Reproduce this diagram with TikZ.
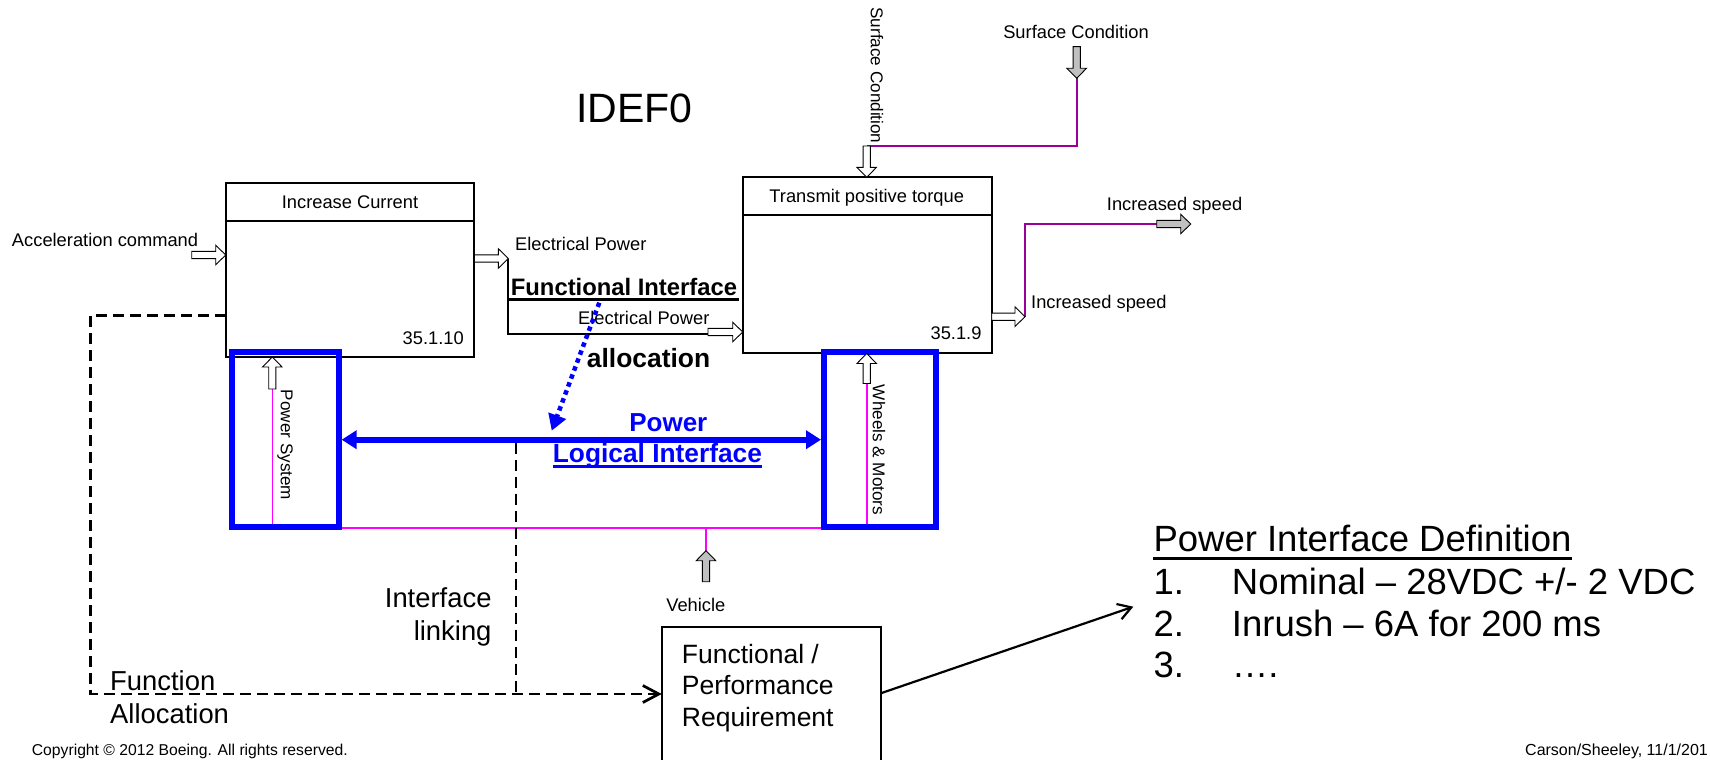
\documentclass[tikz,border=0pt]{standalone}
\usepackage{fontspec}
\setmainfont{Liberation Sans}
\usetikzlibrary{arrows.meta}
\definecolor{ablue}{RGB}{0,0,255}
\definecolor{amag}{RGB}{255,0,255}
\definecolor{apurp}{RGB}{153,0,153}
\definecolor{agray}{RGB}{192,192,192}
\newcommand\sz[1]{\fontsize{#1}{#1}\selectfont}

\begin{document}
\begin{tikzpicture}[x=1pt,y=-1pt,
  idefbox/.style={draw, line width=1.8, outer sep=0, inner sep=0},
  bluebox/.style={draw=ablue, line width=5.7, inner sep=0},
  lbl/.style={inner sep=0, font=\sz{18.3}},
  vlbl/.style={inner sep=0, font=\sz{17.1}, rotate=-90},
  big/.style={inner sep=0, font=\sz{27.4}},
  listtxt/.style={inner sep=0, font=\sz{36.5}, anchor=base west},
  dashline/.style={line width=2.7, dash pattern=on 11pt off 6pt},
  pics/harrow/.style={code={
    \draw[line width=0.9, fill=white, line join=miter]
      (0,0) -- (-10,-9.8) -- (-10,-3.6) -- (-#1,-3.6) -- (-#1,3.6) -- (-10,3.6) -- (-10,9.8) -- cycle;}},
  pics/garrow/.style={code={
    \draw[line width=0.9, fill=agray, line join=miter]
      (0,0) -- (-10,-9.8) -- (-10,-3.6) -- (-#1,-3.6) -- (-#1,3.6) -- (-10,3.6) -- (-10,9.8) -- cycle;}},
]
\useasboundingbox (0,0) rectangle (1710,760);

% title
\node[anchor=base west, inner sep=0, font=\sz{41}] (title) at (576,122) {IDEF0};

% activity boxes
\node[idefbox, minimum width=248.6, minimum height=174, anchor=north west] (inc) at (225.7,182.7) {};
\draw[line width=1.8] ([yshift=-38pt]inc.north west) -- ([yshift=-38pt]inc.north east);
\node[lbl, anchor=base] (incT) at (350,208.2) {Increase Current};
\node[lbl, anchor=base east] (incN) at (464,344.5) {35.1.10};

\node[idefbox, minimum width=249, minimum height=175.4, anchor=north west] (tra) at (742.7,177.3) {};
\draw[line width=1.8] ([yshift=-37.7pt]tra.north west) -- ([yshift=-37.7pt]tra.north east);
\node[lbl, anchor=base] (traT) at (866.7,202.5) {Transmit positive torque};
\node[lbl, anchor=base east] (traN) at (981.7,339.8) {35.1.9};

% connection points
\coordinate (accTip) at (225.7,255);
\coordinate (incOut) at (508.3,258.5);
\coordinate (epBend) at (508.3,334.3);
\coordinate (epEnd) at (708,334.3);
\coordinate (traIn) at (742.7,332);
\coordinate (surfIn) at (866.7,177.3);
\coordinate (surfJoin) at (866.7,146);
\coordinate (surfCorner) at (1076.7,146);
\coordinate (surfSrc) at (1076.7,78.3);
\coordinate (traOut) at (1025,316.7);
\coordinate (spdCorner) at (1025,224);
\coordinate (spdEnd) at (1156.7,224);
\coordinate (spdTip) at (1190.7,224);
\coordinate (pwrTip) at (272.3,357);
\coordinate (pwrBase) at (272.3,389);
\coordinate (pwrFoot) at (272.3,528);
\coordinate (whlTip) at (866.7,353.5);
\coordinate (whlBase) at (866.7,383.5);
\coordinate (whlFoot) at (866.7,528);
\coordinate (vehJoin) at (706,528);
\coordinate (vehTip) at (706,550.7);

% mechanism wiring
\draw[amag, line width=1.6] (pwrBase) -- (pwrFoot) -- (whlFoot) -- (whlBase);
\draw[amag, line width=1.6] (vehJoin) -- (vehTip);

% physical elements
\node[bluebox, minimum width=106.6, minimum height=175] (pwr) at (285.5,439.7) {};
\node[bluebox, minimum width=112.3, minimum height=175] (whl) at (880,439.7) {};
\node[vlbl] (pwrL) at (285,445) {Power System};
\node[vlbl] (whlL) at (879,450) {Wheels \& Motors};

% control and output lines
\draw[apurp, line width=2] (surfJoin) -- (surfCorner) -- (surfSrc);
\draw[apurp, line width=2] (traOut) -- (spdCorner) -- (spdEnd);
\draw[line width=1.8] (incOut) -- (epBend) -- (epEnd);

% block arrows
\pic at (accTip) {harrow=34};
\pic at (incOut) {harrow=34};
\pic at (traIn) {harrow=34.7};
\pic at (traOut) {harrow=33.3};
\pic[rotate=-90] at (surfIn) {harrow=31.3};
\pic[rotate=90] at (pwrTip) {harrow=32};
\pic[rotate=90] at (whlTip) {harrow=30};
\pic[rotate=-90] at (surfSrc) {garrow=31.6};
\pic at (spdTip) {garrow=34};
\pic[rotate=90] at (vehTip) {garrow=31};

% arrow labels
\node[lbl, anchor=base west] (acc) at (11.8,246) {Acceleration command};
\node[lbl, anchor=base west] (ep1) at (515,250.5) {Electrical Power};
\node[lbl, anchor=base west] (ep2) at (578,324.8) {Electrical Power};
\node[lbl, anchor=base] (surfT) at (1076,38.2) {Surface Condition};
\node[vlbl] (surfV) at (877,75.5) {Surface Condition};
\node[lbl, anchor=base west] (is1) at (1106.7,210.5) {Increased speed};
\node[lbl, anchor=base west] (is2) at (1031,308.8) {Increased speed};
\node[lbl, anchor=base] (veh) at (695.8,611.5) {Vehicle};

% interface annotations
\node[anchor=base west, inner sep=0, font=\sz{23.8}\bfseries] (fi) at (510.7,295.7) {Functional Interface};
\draw[line width=2.4] ([xshift=-2.4pt,yshift=-3.8pt]fi.base west) -- ([xshift=1.3pt,yshift=-3.8pt]fi.base east);
\node[anchor=base west, inner sep=0, font=\sz{26.4}\bfseries] (alloc) at (586.7,367.3) {allocation};
\node[anchor=base, inner sep=0, font=\sz{26}\bfseries, text=ablue] (pw) at (668.3,431.7) {Power};
\node[anchor=base west, inner sep=0, font=\sz{26.3}\bfseries, text=ablue] (li) at (552.7,462.7) {Logical Interface};
\draw[ablue, line width=2.5] ([yshift=-4pt]li.base west) -- ([yshift=-4pt]li.base east);

\coordinate (fiOut) at (599.3,302.7);
\coordinate (dotTip) at (551.7,430.7);
\draw[ablue, line width=4.5, dash pattern=on 4.5pt off 4pt, -{Triangle[length=16pt,width=18pt]}] (fiOut) -- (dotTip);
\draw[ablue, line width=5.7, {Triangle[length=15pt,width=18pt]}-{Triangle[length=15pt,width=18pt]}] (pwr.east) -- (whl.west);

% requirement box
\node[idefbox, line width=2.3, minimum width=219, minimum height=150, anchor=north west] (req) at (661.7,626.7) {};
\node[inner sep=0, font=\sz{26.5}, anchor=base west] (rq1) at (681.7,663) {Functional /};
\node[inner sep=0, font=\sz{26.5}, anchor=base west] (rq2) at (681.7,694.5) {Performance};
\node[inner sep=0, font=\sz{26.5}, anchor=base west] (rq3) at (681.7,726) {Requirement};

% allocation / linking paths
\coordinate (incDash) at (225.7,315.3);
\coordinate (fnTop) at (90.7,315.3);
\coordinate (fnBot) at (90.7,694);
\coordinate (reqIn) at (661.7,694);
\coordinate (linkTop) at (516,442.5);
\coordinate (linkBot) at (516,694);
\draw[dashline, -{Straight Barb[length=16pt,width=17pt]}] (incDash) -- (fnTop) -- (fnBot) -- (reqIn);
\draw[dashline] (linkTop) -- (linkBot);
\node[big, anchor=base east] (il1) at (491.7,607.3) {Interface};
\node[big, anchor=base east] (il2) at (491.7,640) {linking};
\node[big, anchor=base west] (fa1) at (110,690) {Function};
\node[big, anchor=base west] (fa2) at (110,723.3) {Allocation};

% interface definition list
\node[listtxt] (pid) at (1153.3,551) {Power Interface Definition};
\draw[line width=2.7] ([yshift=-7.5pt]pid.base west) -- ([yshift=-7.5pt]pid.base east);
\node[listtxt] (n1) at (1153.3,594) {1.};
\node[listtxt] (t1) at (1231.7,594) {Nominal – 28VDC +/- 2 VDC};
\node[listtxt] (n2) at (1153.3,636) {2.};
\node[listtxt] (t2) at (1231.7,636) {Inrush – 6A for 200 ms};
\node[listtxt] (n3) at (1153.3,677) {3.};
\node[listtxt] (t3) at (1231.7,677) {….};
\coordinate (reqOut) at (880.7,693.3);
\coordinate (listIn) at (1133.3,606.7);
\draw[line width=2.2, -{Straight Barb[length=13pt,width=16pt]}] (reqOut) -- (listIn);

% footer
\node[inner sep=0, font=\sz{15.7}, anchor=base west] (copy) at (31.7,755) {Copyright © 2012 Boeing. All rights reserved.};
\node[inner sep=0, font=\sz{16}, anchor=base west] (auth) at (1525,755) {Carson/Sheeley, 11/1/201};
\end{tikzpicture}
\end{document}
